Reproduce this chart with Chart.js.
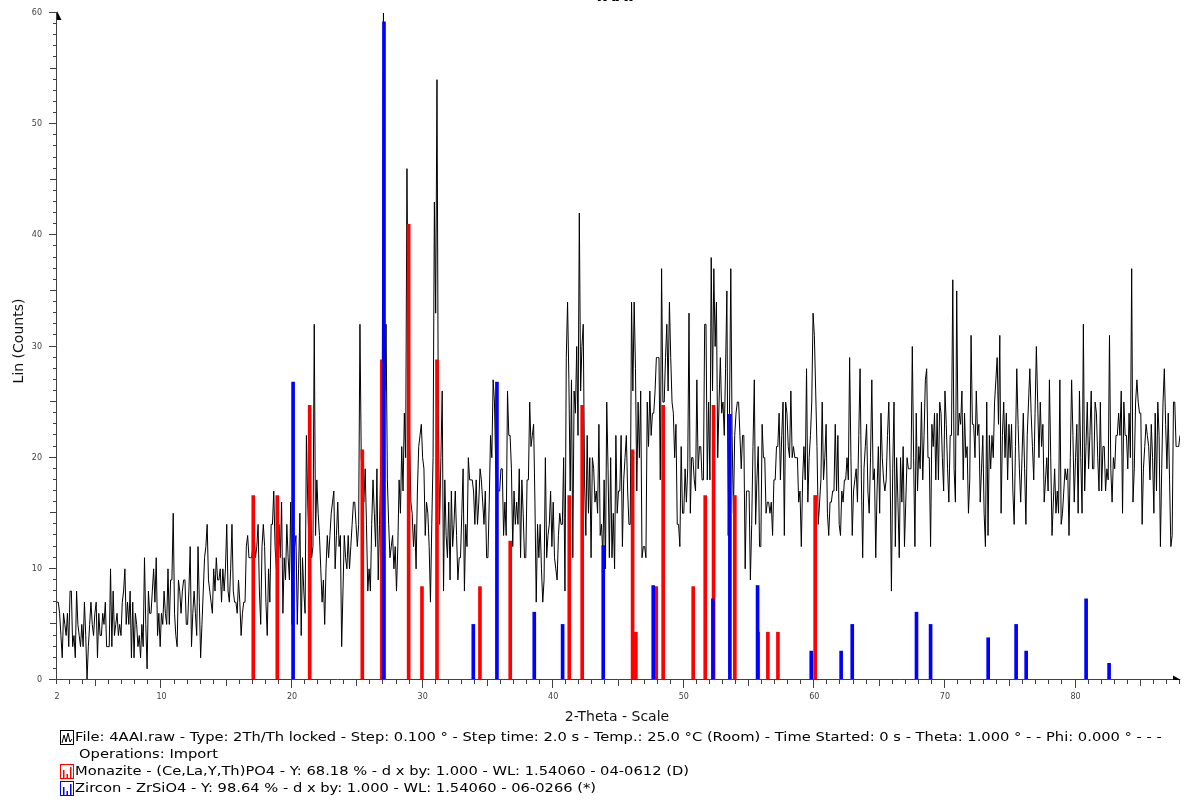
<!DOCTYPE html>
<html>
<head>
<meta charset="utf-8">
<script src="https://cdn.jsdelivr.net/npm/chart.js@4.4.1/dist/chart.umd.min.js"></script>
<style>
  html, body { margin: 0; padding: 0; background: #fff; overflow: hidden; }
  #wrap { position: relative; width: 1188px; height: 802px; }
</style>
</head>
<body>
<div id="wrap"><canvas id="c" width="1188" height="802"></canvas></div>
<script>
// Scan grid (2Th/Th locked, step 0.1°)
const scanStart = 2.0;
const scanStep = 0.1;

// Measured intensity, Lin (Counts), one row per degree of 2-Theta
const counts = [
  7,7,6,4,2,6,5,4,6,3,        // 2
  8,8,3,4,2,8,5,4,3,5,        // 3
  3,7,4,0,3,5,7,5,4,6,        // 4
  7,2,6,4,4,6,5,7,3,3,        // 5
  3,10,3,8,4,5,6,4,5,4,       // 6
  7,8,10,5,7,5,8,2,7,2,       // 7
  6,5,3,4,2,5,3,11,5,1,       // 8
  8,6,6,8,10,7,11,4,6,3,      // 9
  6,5,8,6,5,10,5,9,9,15,      // 10
  6,4,3,9,8,6,8,9,9,5,        // 11
  5,8,12,3,6,8,6,4,12,7,      // 12
  2,5,8,11,12,14,9,8,7,6,     // 13
  10,8,11,9,9,10,7,10,8,10,   // 14
  14,8,7,10,14,8,7,7,6,9,     // 15
  7,4,6,7,7,12,13,11,11,11,   // 16
  12,13,11,12,14,8,5,12,14,12,// 17
  7,4,10,7,14,14,17,12,10,12, // 18
  14,11,16,6,11,9,14,11,9,16, // 19
  5,9,12,13,5,10,15,4,11,8,   // 20
  6,22,16,12,19,11,12,32,13,18, // 21
  15,13,10,7,9,5,10,13,11,13, // 22
  15,16,17,10,13,16,12,13,3,8,// 23
  13,11,10,13,10,12,14,16,16,14, // 24
  12,14,32,20,18,16,19,14,8,10,  // 25
  8,14,18,15,12,19,9,14,20,24,   // 26
  60,26,32,18,14,11,12,13,10,12, // 27
  8,12,18,15,21,17,24,20,46,30,  // 28
  22,16,15,12,14,10,17,21,22,23, // 29
  20,19,13,16,15,12,7,14,20,43,  // 30
  33,54,24,14,20,26,8,18,13,11,  // 31
  16,9,17,12,14,17,13,9,11,11,   // 32
  15,19,8,14,12,20,18,18,18,17,  // 33
  14,18,14,16,19,18,16,14,17,11, // 34
  11,16,22,20,27,25,19,17,17,17, // 35
  19,19,13,16,13,26,22,22,19,12, // 36
  17,14,16,14,19,11,18,15,11,11, // 37
  18,18,25,21,22,23,16,7,14,11,  // 38
  14,10,7,9,20,11,13,14,17,12,   // 39
  16,11,10,9,13,15,14,14,20,8,   // 40
  29,34,27,17,27,11,26,24,30,22, // 41
  42,26,30,32,18,13,22,15,20,11, // 42
  20,19,16,17,15,23,13,14,11,18, // 43
  10,25,19,11,20,11,15,10,22,15, // 44
  17,17,22,12,18,20,22,17,14,14, // 45
  34,26,34,28,17,25,20,26,11,12, // 46
  12,11,25,21,26,22,24,24,26,29, // 47
  29,29,18,37,25,25,29,32,26,34, // 48
  29,25,24,20,23,14,14,12,21,15, // 49
  15,19,16,19,33,15,20,20,18,17, // 50
  27,19,21,21,18,18,32,32,18,25, // 51
  18,38,26,37,30,34,20,25,29,24, // 52
  25,22,28,35,13,24,37,22,15,22, // 53
  24,25,25,22,19,22,22,10,17,17, // 54
  17,9,14,21,27,14,18,21,12,12,  // 55
  23,20,20,15,16,16,15,16,13,18, // 56
  18,21,21,24,18,22,25,13,25,24, // 57
  21,20,26,20,21,20,20,20,16,17, // 58
  12,18,21,18,28,16,20,22,25,33, // 59
  31,26,21,14,16,18,25,18,20,23, // 60
  15,13,16,16,17,17,23,17,22,14, // 61
  13,17,16,18,18,20,18,29,20,13, // 62
  17,18,19,16,22,28,18,11,19,21, // 63
  23,17,15,20,27,18,19,11,17,21, // 64
  15,24,20,18,17,18,22,25,19,8,  // 65
  19,25,12,20,16,11,20,16,21,12, // 66
  16,20,19,19,19,30,20,12,24,17, // 67
  21,19,25,18,22,27,28,20,20,12, // 68
  23,21,24,18,24,18,25,24,20,17, // 69
  26,23,19,16,22,22,36,19,16,35, // 70
  22,24,23,26,18,24,20,21,15,18, // 71
  31,23,23,20,26,22,23,16,19,22, // 72
  15,12,25,13,22,19,22,20,25,27, // 73
  29,23,31,15,22,25,20,24,18,23, // 74
  20,23,17,14,21,28,23,19,16,20, // 75
  24,19,14,22,25,28,24,21,18,24, // 76
  30,25,20,25,21,23,16,18,20,17, // 77
  27,20,13,16,19,15,17,15,27,14, // 78
  15,17,19,18,19,13,20,27,22,16, // 79
  20,23,15,26,20,15,32,17,21,25, // 80
  19,22,26,19,19,25,24,20,17,25, // 81
  17,21,21,17,19,18,31,19,16,20, // 82
  19,22,22,24,22,26,15,25,22,22, // 83
  19,24,20,37,16,19,25,27,25,24, // 84
  24,14,19,21,23,22,21,18,23,20, // 85
  15,24,17,25,22,12,19,25,28,23, // 86
  19,24,18,12,13,25,25,21,21,21, // 87
  22                             // 88
];

// Monazite - (Ce,La,Y,Th)PO4, reference lines (2-Theta, scaled counts)
const monazitePos = [17.03, 18.87, 21.35, 25.38, 26.88, 28.93, 29.95, 31.10, 34.39, 36.71, 41.23, 42.22,
                     46.08, 46.33, 47.89, 48.42, 50.72, 51.64, 52.28, 53.91, 55.70, 56.44, 57.21, 60.06];
const monaziteInt = [16.6, 16.6, 24.7, 20.7, 28.8, 41.0, 8.4, 28.8, 8.4, 12.5, 16.6, 24.7,
                     20.7, 4.3, 8.4, 24.7, 8.4, 16.6, 24.7, 16.6, 4.3, 4.3, 4.3, 16.6];

// Zircon - ZrSiO4, reference lines
const zirconPos = [20.08, 27.04, 33.88, 35.69, 38.55, 40.72, 43.83, 47.66, 52.23, 53.53, 55.65,
                   59.76, 62.05, 62.90, 67.82, 68.90, 73.31, 75.45, 76.22, 80.81, 82.57];
const zirconInt = [26.8, 59.2, 5.0, 26.8, 6.1, 5.0, 12.1, 8.5, 7.3, 23.9, 8.5,
                   2.6, 2.6, 5.0, 6.1, 5.0, 3.8, 5.0, 2.6, 7.3, 1.5];

// Axis labels
const xTickLabels = [2, 10, 20, 30, 40, 50, 60, 70, 80];
const yTickLabels = [0, 10, 20, 30, 40, 50, 60];
const xRange = [2, 88];
const yRange = [0, 60];

const plotTitle = '4AAI';
const xTitle = '2-Theta - Scale';
const yTitle = 'Lin (Counts)';
const legendLines = [
  { icon: 'scan', color: '#000000', indent: 0,
    text: 'File: 4AAI.raw - Type: 2Th/Th locked - Step: 0.100 ° - Step time: 2.0 s - Temp.: 25.0 °C (Room) - Time Started: 0 s - Theta: 1.000 ° - - Phi: 0.000 ° - - -' },
  { icon: null, color: '#000000', indent: 4, text: 'Operations: Import' },
  { icon: 'sticks', color: '#ff0000', indent: 0,
    text: 'Monazite - (Ce,La,Y,Th)PO4 - Y: 68.18 % - d x by: 1.000 - WL: 1.54060 - 04-0612 (D)' },
  { icon: 'sticks', color: '#0000ff', indent: 0,
    text: 'Zircon - ZrSiO4 - Y: 98.64 % - d x by: 1.000 - WL: 1.54060 - 06-0266 (*)' }
];

const scanPoints = counts.map((c, i) => ({ x: +(scanStart + i * scanStep).toFixed(1), y: c }));
const monazitePoints = monazitePos.map((p, i) => ({ x: p, y: monaziteInt[i] }));
const zirconPoints = zirconPos.map((p, i) => ({ x: p, y: zirconInt[i] }));

const FONT = '"DejaVu Sans", Verdana, sans-serif';

// Text drawn with a horizontal stretch (wide Verdana-like setting)
function wideText(ctx, text, x, y, stretch) {
  ctx.save();
  ctx.translate(x, y);
  ctx.scale(stretch, 1);
  ctx.fillText(text, 0, 0);
  ctx.restore();
}

// Axes with arrow heads, graded tick marks, labels, titles and the pattern legend
const diffractogramDecor = {
  id: 'diffractogramDecor',
  afterDraw(chart) {
    const { ctx, scales: { x, y } } = chart;
    ctx.save();

    // axis lines
    ctx.strokeStyle = '#404040';
    ctx.lineWidth = 1;
    ctx.beginPath();
    ctx.moveTo(56.5, y.getPixelForValue(yRange[1]) - 1);
    ctx.lineTo(56.5, 679.5);
    ctx.lineTo(x.getPixelForValue(xRange[1]), 679.5);
    ctx.stroke();

    // arrow heads
    ctx.fillStyle = '#000';
    const yTop = y.getPixelForValue(yRange[1]);
    ctx.beginPath();
    ctx.moveTo(57, yTop - 2);
    ctx.lineTo(57, yTop + 7);
    ctx.lineTo(61.5, yTop + 7);
    ctx.closePath();
    ctx.fill();
    const xEnd = x.getPixelForValue(xRange[1]);
    ctx.beginPath();
    ctx.moveTo(xEnd + 1, 680);
    ctx.lineTo(xEnd - 7, 680);
    ctx.lineTo(xEnd - 7, 675.5);
    ctx.closePath();
    ctx.fill();

    // y ticks (every count, longer at 5 and 10)
    ctx.strokeStyle = '#404040';
    ctx.beginPath();
    for (let v = yRange[0]; v <= yRange[1]; v++) {
      const py = Math.round(y.getPixelForValue(v)) - 0.5;
      const len = v % 10 === 0 ? 8 : (v % 5 === 0 ? 7 : 4);
      ctx.moveTo(57, py);
      ctx.lineTo(57 - len, py);
    }
    // x ticks (every degree, longer at 5 and 10)
    for (let t = xRange[0]; t <= Math.floor(xRange[1]); t++) {
      const px = Math.round(x.getPixelForValue(t)) - 0.5;
      const len = t % 10 === 0 ? 8 : (t % 5 === 0 ? 6 : 4);
      ctx.moveTo(px, 680);
      ctx.lineTo(px, 680 + len);
    }
    ctx.stroke();

    // tick labels
    ctx.fillStyle = '#404040';
    ctx.font = '8px ' + FONT;
    ctx.textAlign = 'center';
    ctx.textBaseline = 'middle';
    xTickLabels.forEach(t => ctx.fillText(String(t), x.getPixelForValue(t), 697));
    ctx.textAlign = 'right';
    yTickLabels.forEach(v => ctx.fillText(String(v), 42, y.getPixelForValue(v)));

    // axis titles
    ctx.fillStyle = '#111';
    ctx.font = '14px ' + FONT;
    ctx.textAlign = 'center';
    ctx.fillText(xTitle, 617, 717);
    ctx.save();
    ctx.translate(19, 341);
    ctx.rotate(-Math.PI / 2);
    ctx.fillText(yTitle, 0, 0);
    ctx.restore();

    // title (sits at the very top edge)
    ctx.font = 'bold 16px ' + FONT;
    ctx.textBaseline = 'alphabetic';
    ctx.fillStyle = '#000';
    ctx.fillText(plotTitle, 613, 1);

    // legend
    ctx.font = '13px ' + FONT;
    ctx.textAlign = 'left';
    ctx.textBaseline = 'middle';
    legendLines.forEach((ln, i) => {
      const cy = 738 + i * 17;
      if (ln.icon) {
        ctx.strokeStyle = ln.color;
        ctx.lineWidth = 1;
        ctx.strokeRect(60.5, cy - 7.5, 13, 14);
        ctx.beginPath();
        if (ln.icon === 'scan') {
          ctx.moveTo(62, cy + 5);
          ctx.lineTo(64, cy - 3);
          ctx.lineTo(66, cy + 4);
          ctx.lineTo(68, cy - 5);
          ctx.lineTo(70, cy + 4);
          ctx.lineTo(72, cy + 1);
          ctx.stroke();
        } else {
          ctx.fillStyle = ln.color;
          ctx.fillRect(63, cy - 2, 1.5, 8);
          ctx.fillRect(66.5, cy + 2, 1.5, 4);
          ctx.fillRect(70, cy - 5, 1.5, 11);
        }
      }
      ctx.fillStyle = '#000';
      wideText(ctx, ln.text, 75 + ln.indent, cy, 1.13);
    });

    ctx.restore();
  }
};

new Chart(document.getElementById('c'), {
  type: 'line',
  data: {
    datasets: [
      { type: 'line', label: '4AAI.raw', data: scanPoints, borderColor: '#000', borderWidth: 1,
        pointRadius: 0, tension: 0, fill: false, order: 3 },
      { type: 'bar', label: 'Monazite', data: monazitePoints, backgroundColor: '#ff0000',
        borderWidth: 0, barThickness: 3, grouped: false, order: 2 },
      { type: 'bar', label: 'Zircon', data: zirconPoints, backgroundColor: '#0000ff',
        borderWidth: 0, barThickness: 3, grouped: false, order: 1 }
    ]
  },
  options: {
    responsive: false,
    animation: false,
    devicePixelRatio: 1,
    layout: { padding: { left: 57, right: 8, top: 13, bottom: 122 } },
    plugins: { legend: { display: false }, tooltip: { enabled: false }, title: { display: false } },
    scales: {
      x: { type: 'linear', min: xRange[0], max: xRange[1], offset: false, display: false },
      y: { type: 'linear', min: yRange[0], max: yRange[1], display: false }
    }
  },
  plugins: [diffractogramDecor]
});
</script>
</body>
</html>
